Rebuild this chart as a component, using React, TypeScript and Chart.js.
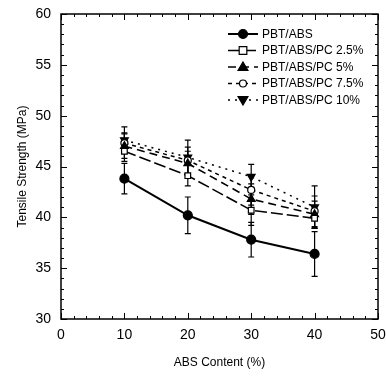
import React, { useEffect, useRef } from 'react';
import { Chart, registerables } from 'chart.js';

Chart.register(...registerables);

// ---- data ----
const absContent = [10, 20, 30, 40];
const seriesNames = ['PBT/ABS', 'PBT/ABS/PC 2.5%', 'PBT/ABS/PC 5%', 'PBT/ABS/PC 7.5%', 'PBT/ABS/PC 10%'];
const pbtAbs = [43.8, 40.2, 37.8, 36.4];
const pc25 = [46.5, 44.1, 40.7, 39.9];
const pc5 = [47.0, 45.3, 41.8, 40.3];
const pc75 = [47.3, 45.6, 42.7, 40.6];
const pc10 = [47.6, 45.9, 44.0, 41.0];
const errPbtAbs = [1.5, 1.8, 1.7, 2.2];
const errPc25 = [1.0, 1.0, 1.5, 1.0];
const errPc5 = [1.2, 1.2, 1.5, 1.3];
const errPc75 = [1.0, 1.3, 1.5, 1.5];
const errPc10 = [1.3, 1.7, 1.2, 2.1];
const xTicks = [0, 10, 20, 30, 40, 50];
const yTicks = [30, 35, 40, 45, 50, 55, 60];

const values = [pbtAbs, pc25, pc5, pc75, pc10];
const errors = [errPbtAbs, errPc25, errPc5, errPc75, errPc10];

const FONT = '"Liberation Sans", Arial, sans-serif';

type Style = { dash: number[]; width: number; point: string; radius: number; fill: boolean; rotation: number };
const styles: Style[] = [
  { dash: [], width: 2, point: 'circle', radius: 4.5, fill: true, rotation: 0 },
  { dash: [12, 4], width: 1.6, point: 'rect', radius: 4.5, fill: false, rotation: 0 },
  { dash: [8, 5], width: 1.6, point: 'triangle', radius: 4.5, fill: true, rotation: 0 },
  { dash: [4, 4], width: 1.5, point: 'circle', radius: 3.5, fill: false, rotation: 0 },
  { dash: [2, 5], width: 1.5, point: 'triangle', radius: 4.5, fill: true, rotation: 180 },
];

function drawMarker(ctx: CanvasRenderingContext2D, s: Style, x: number, y: number) {
  ctx.save();
  ctx.setLineDash([]);
  ctx.lineWidth = 1.2;
  ctx.strokeStyle = '#000';
  ctx.fillStyle = s.fill ? '#000' : '#fff';
  ctx.beginPath();
  const r = s.radius;
  if (s.point === 'circle') {
    ctx.arc(x, y, r, 0, Math.PI * 2);
  } else if (s.point === 'rect') {
    const h = r * 0.85;
    ctx.rect(x - h, y - h, h * 2, h * 2);
  } else {
    const dir = s.rotation === 180 ? -1 : 1;
    const h = r * 1.1;
    ctx.moveTo(x, y - dir * h);
    ctx.lineTo(x + h, y + dir * h * 0.7);
    ctx.lineTo(x - h, y + dir * h * 0.7);
    ctx.closePath();
  }
  ctx.fill();
  ctx.stroke();
  ctx.restore();
}

const errorBarPlugin = {
  id: 'errorBars',
  beforeDatasetsDraw(chart: any) {
    const { ctx, scales } = chart;
    const xs = scales.x, ys = scales.y;
    ctx.save();
    ctx.strokeStyle = '#000';
    ctx.lineWidth = 1.2;
    ctx.setLineDash([]);
    values.forEach((vals, i) => {
      vals.forEach((v, j) => {
        const x = xs.getPixelForValue(absContent[j]);
        const y1 = ys.getPixelForValue(v + errors[i][j]);
        const y2 = ys.getPixelForValue(v - errors[i][j]);
        ctx.beginPath();
        ctx.moveTo(x, y1); ctx.lineTo(x, y2);
        ctx.moveTo(x - 3, y1); ctx.lineTo(x + 3, y1);
        ctx.moveTo(x - 3, y2); ctx.lineTo(x + 3, y2);
        ctx.stroke();
      });
    });
    ctx.restore();
  },
};

const framePlugin = {
  id: 'frameTicks',
  afterDraw(chart: any) {
    const { ctx, chartArea: a, scales } = chart;
    const xs = scales.x, ys = scales.y;
    ctx.save();
    ctx.strokeStyle = '#000';
    ctx.setLineDash([]);
    ctx.lineWidth = 1.5;
    ctx.strokeRect(a.left, a.top, a.right - a.left, a.bottom - a.top);
    ctx.lineWidth = 1;
    ctx.beginPath();
    for (let v = xs.min; v <= xs.max + 1e-9; v += 2) {
      const x = Math.round(xs.getPixelForValue(v)) + 0.5;
      const len = v % 10 === 0 ? 6 : 3;
      ctx.moveTo(x, a.bottom); ctx.lineTo(x, a.bottom - len);
      ctx.moveTo(x, a.top); ctx.lineTo(x, a.top + len);
    }
    for (let v = ys.min; v <= ys.max + 1e-9; v += 1) {
      const y = Math.round(ys.getPixelForValue(v)) + 0.5;
      const len = v % 5 === 0 ? 6 : 3;
      ctx.moveTo(a.left, y); ctx.lineTo(a.left + len, y);
      ctx.moveTo(a.right, y); ctx.lineTo(a.right - len, y);
    }
    ctx.stroke();

    // legend
    const lx0 = a.right - 150;
    const lx1 = lx0 + 30;
    const tx = lx1 + 4;
    ctx.font = `12px ${FONT}`;
    ctx.fillStyle = '#000';
    ctx.textBaseline = 'middle';
    ctx.textAlign = 'left';
    seriesNames.forEach((name, i) => {
      const y = a.top + 20 + i * 16.5;
      const s = styles[i];
      ctx.save();
      ctx.lineWidth = s.width;
      ctx.setLineDash(s.dash);
      ctx.beginPath();
      ctx.moveTo(lx0, y); ctx.lineTo(lx1, y);
      ctx.stroke();
      ctx.restore();
      drawMarker(ctx, s, (lx0 + lx1) / 2, y);
      ctx.fillText(name, tx, y + 0.5);
    });
    ctx.restore();
  },
};

export default function App() {
  const ref = useRef<HTMLCanvasElement>(null);
  useEffect(() => {
    document.body.style.margin = '0';
    const datasets = values.map((vals, i) => {
      const s = styles[i];
      return {
        label: seriesNames[i],
        data: absContent.map((x, j) => ({ x, y: vals[j] })),
        borderColor: '#000',
        backgroundColor: s.fill ? '#000' : '#fff',
        borderWidth: s.width,
        borderDash: s.dash,
        pointStyle: s.point,
        pointRadius: s.point === 'rect' ? 4 : s.radius,
        pointRotation: s.rotation,
        pointBorderWidth: 1.2,
        pointBorderColor: '#000',
        pointBackgroundColor: s.fill ? '#000' : '#fff',
        tension: 0,
        showLine: true,
        fill: false,
      };
    });
    const chart = new Chart(ref.current!, {
      type: 'line',
      data: { datasets } as any,
      options: {
        animation: false,
        responsive: false,
        layout: { padding: { top: 14, right: 8, left: 0, bottom: 0 } },
        plugins: { legend: { display: false }, tooltip: { enabled: false } },
        scales: {
          x: {
            type: 'linear',
            min: 0,
            max: 50,
            afterBuildTicks: (s: any) => { s.ticks = xTicks.map((v) => ({ value: v })); },
            afterFit: (s: any) => { s.height = 57; s.paddingLeft = 0; s.paddingRight = 0; },
            ticks: { color: '#000', font: { family: FONT, size: 14 }, padding: 8, maxRotation: 0 },
            grid: { display: false, drawTicks: false },
            border: { display: false },
            title: { display: true, text: 'ABS Content (%)', color: '#000', font: { family: FONT, size: 12 }, padding: { top: 4, bottom: 6 } },
          },
          y: {
            type: 'linear',
            min: 30,
            max: 60,
            afterBuildTicks: (s: any) => { s.ticks = yTicks.map((v) => ({ value: v })); },
            afterFit: (s: any) => { s.width = 61; s.paddingTop = 0; s.paddingBottom = 0; },
            ticks: { color: '#000', font: { family: FONT, size: 14 }, padding: 10 },
            grid: { display: false, drawTicks: false },
            border: { display: false },
            title: { display: true, text: 'Tensile Strength (MPa)', color: '#000', font: { family: FONT, size: 12 }, padding: { top: 15, bottom: 4 } },
          },
        },
      },
      plugins: [errorBarPlugin, framePlugin],
    } as any);
    return () => chart.destroy();
  }, []);
  return (
    <div style={{ width: 386, height: 376 }}>
      <canvas ref={ref} width={386} height={376} />
    </div>
  );
}
